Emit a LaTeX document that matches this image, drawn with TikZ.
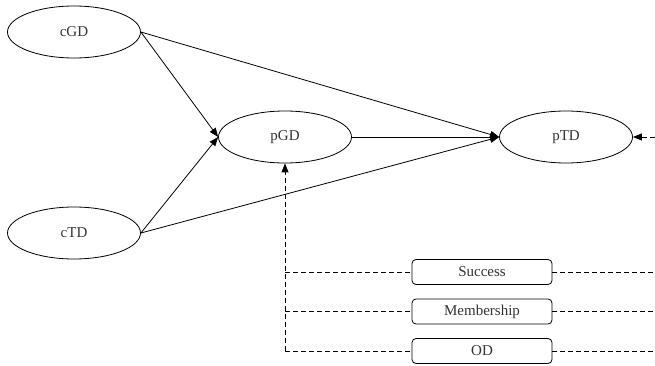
\documentclass[tikz,border=0pt]{standalone}
\usepackage{fontspec}
\setmainfont{Liberation Serif}
\usetikzlibrary{shapes.geometric,arrows.meta}

\begin{document}
\begin{tikzpicture}[x=1pt,y=-1pt,line width=0.8pt]
\tikzstyle{every node}=[font=\fontsize{15}{18}\selectfont,text=black!80]
\tikzstyle{latent}=[draw,ellipse,minimum width=133pt,minimum height=52pt,inner sep=0pt]
\tikzstyle{ctrl}=[draw,rounded corners=4pt,minimum width=140pt,minimum height=25pt,inner sep=0pt]
\tikzstyle{path}=[-{Triangle[length=9pt,width=7pt]}]
\tikzstyle{cov}=[dash pattern=on 5pt off 3pt]
\useasboundingbox (0,0) rectangle (655,366);
\node[latent](cGD) at (74,32){cGD};
\node[latent](cTD) at (74,233){cTD};
\node[latent](pGD) at (285,137){pGD};
\node[latent](pTD) at (566,137){pTD};
\node[ctrl](succ) at (482,272){Success};
\node[ctrl](memb) at (482,311.5){Membership};
\node[ctrl](od) at (482,351){OD};
\coordinate(ext) at (655,137);
\coordinate(s1) at (285,272);
\coordinate(s2) at (285,311.5);
\coordinate(s3) at (285,351);
\coordinate(r1) at (655,272);
\coordinate(r2) at (655,311.5);
\coordinate(r3) at (655,351);
\draw[path](cGD.east)--(pGD.west);
\draw[path](cGD.east)--(pTD.west);
\draw[path](cTD.east)--(pGD.west);
\draw[path](cTD.east)--(pTD.west);
\draw[path](pGD.east)--(pTD.west);
\draw[path,cov](ext)--(pTD.east);
\draw[path,cov](s3)--(pGD.south);
\draw[cov](s1)--(succ.west);
\draw[cov](s2)--(memb.west);
\draw[cov](s3)--(od.west);
\draw[cov](succ.east)--(r1);
\draw[cov](memb.east)--(r2);
\draw[cov](od.east)--(r3);
\end{tikzpicture}
\end{document}
